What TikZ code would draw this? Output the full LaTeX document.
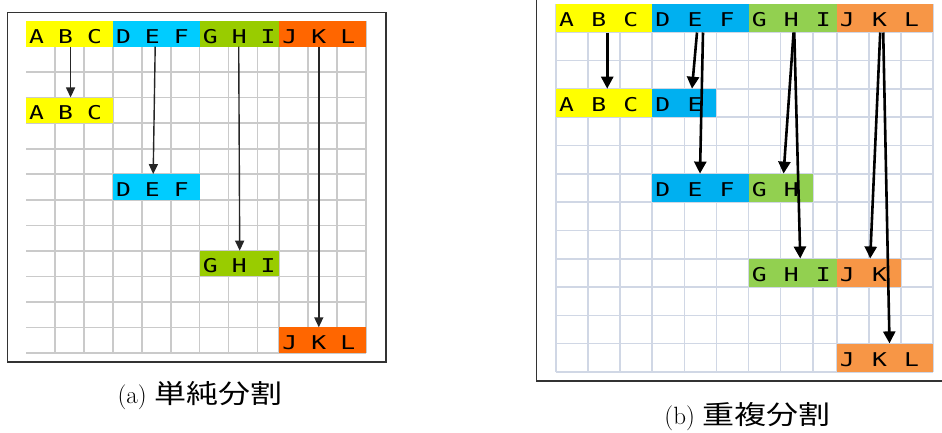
\documentclass[tikz,border=0pt]{standalone}
\usepackage{fontspec}
\newfontfamily\gridfont{DejaVu Sans Mono}[FakeStretch=1.3]
\newfontfamily\jafont{Noto Sans CJK JP}[Scale=1.05, FakeStretch=1.22]
\usetikzlibrary{arrows.meta}
\definecolor{yela}{HTML}{FFFF00}
\definecolor{blua}{HTML}{00CCFF}
\definecolor{grna}{HTML}{99CC00}
\definecolor{orga}{HTML}{FF6600}
\definecolor{yelb}{HTML}{FFFF00}
\definecolor{blub}{HTML}{00B0F0}
\definecolor{grnb}{HTML}{92D050}
\definecolor{orgb}{HTML}{F79646}
\definecolor{linea}{HTML}{CACACA}
\definecolor{lineb}{HTML}{D0D7E5}

\begin{document}
\begin{tikzpicture}[x=1pt, y=-1pt,
    lt/.style={font=\gridfont\fontsize{19}{19}\selectfont, inner sep=0pt, anchor=west, xshift=3pt},
    frame/.style={draw=black!80, line width=1.5pt},
    arra/.style={-{Triangle[length=10pt, width=9pt]}, line width=1.4pt, black!85},
    arrb/.style={-{Triangle[length=12pt, width=12pt]}, line width=2.6pt, black},
    captext/.style={font=\fontsize{25}{30}\selectfont, anchor=base}]
  \useasboundingbox (0,0) rectangle (942,432);
  \clip (0,0) rectangle (942,432);

  % (a) simple split
  \begin{scope}[shift={(26,21)}, x=28.94pt, y=-25.54pt,
      lt/.append style={text height=22pt, text depth=3.5pt}]
    \foreach \c in {1,...,8,8.75,9.75,10.75,11.75}
      \draw[linea, line width=1.6pt] (\c,0) -- (\c,13);
    \foreach \rw in {1,...,13}
      \draw[linea, line width=1.6pt] (0,\rw) -- (11.75,\rw);
    \fill[yela] (0,0) rectangle (3,1);
    \fill[blua] (3,0) rectangle (6,1);
    \fill[grna] (6,0) rectangle (8.75,1);
    \fill[orga] (8.75,0) rectangle (11.75,1);
    \fill[yela] (0,3) rectangle (3,4);
    \fill[blua] (3,6) rectangle (6,7);
    \fill[grna] (6,9) rectangle (8.75,10);
    \fill[orga] (8.75,12) rectangle (11.75,13);
    \foreach \l/\c in {A/0,B/1,C/2,D/3,E/4,F/5,G/6,H/7,I/8,J/8.75,K/9.75,L/10.75}
      \node[lt] (a0\l) at (\c,0.5) {\l};
    \foreach \l/\c/\rw in {A/0/3,B/1/3,C/2/3,D/3/6,E/4/6,F/5/6,G/6/9,H/7/9,I/8/9,J/8.75/12,K/9.75/12,L/10.75/12}
      \node[lt] (a\rw\l) at (\c,\rw+0.5) {\l};
    \draw[arra] ([xshift=5pt]a0B.south) -- ([xshift=5pt]a3B.north);
    \draw[arra] ([xshift=2.8pt]a0E.south) -- ([xshift=0.8pt]a6E.north);
    \draw[arra] ([xshift=-0.5pt]a0H.south) -- ([xshift=0.5pt]a9H.north);
    \draw[arra] (a0K.south) -- (a12K.north);
  \end{scope}
  \draw[frame] (7.5,12.5) rectangle (386,362);
  \node[captext] (capa) at (200,403.5) {(a) {\jafont 単純分割}};

  % (b) overlapping split
  \begin{scope}[shift={(556,4)}, x=32.09pt, y=-28.3pt,
      lt/.append style={text height=22.8pt, text depth=5.5pt}]
    \foreach \c in {0,...,8,8.75,9.75,10.75,11.75}
      \draw[lineb, line width=1.6pt] (\c,0) -- (\c,13);
    \foreach \rw in {1,...,13}
      \draw[lineb, line width=1.6pt] (0,\rw) -- (11.75,\rw);
    \fill[yelb] (0,0) rectangle (3,1);
    \fill[blub] (3,0) rectangle (6,1);
    \fill[grnb] (6,0) rectangle (8.75,1);
    \fill[orgb] (8.75,0) rectangle (11.75,1);
    \fill[yelb] (0,3) rectangle (3,4);
    \fill[blub] (3,3) rectangle (5,4);
    \fill[blub] (3,6) rectangle (6,7);
    \fill[grnb] (6,6) rectangle (8,7);
    \fill[grnb] (6,9) rectangle (8.75,10);
    \fill[orgb] (8.75,9) rectangle (10.75,10);
    \fill[orgb] (8.75,12) rectangle (11.75,13);
    \foreach \l/\c in {A/0,B/1,C/2,D/3,E/4,F/5,G/6,H/7,I/8,J/8.75,K/9.75,L/10.75}
      \node[lt] (b0\l) at (\c,0.5) {\l};
    \foreach \l/\c/\rw in {A/0/3,B/1/3,C/2/3,D/3/3,E/4/3,D/3/6,E/4/6,F/5/6,G/6/6,H/7/6,
        G/6/9,H/7/9,I/8/9,J/8.75/9,K/9.75/9,J/8.75/12,K/9.75/12,L/10.75/12}
      \node[lt] (b\rw\l) at (\c,\rw+0.5) {\l};
    \draw[arrb] ([xshift=8.5pt]b0B.south) -- ([xshift=8.5pt]b3B.north);
    \draw[arrb] ([xshift=2pt]b0E.south) -- ([xshift=-3pt]b3E.north);
    \draw[arrb] ([xshift=8pt]b0E.south) -- ([xshift=5pt]b6E.north);
    \draw[arrb] ([xshift=2.3pt]b0H.south) -- ([xshift=-7.7pt]b6H.north);
    \draw[arrb] ([xshift=3pt]b0H.south) -- ([xshift=9pt]b9H.north);
    \draw[arrb] ([xshift=0.7pt]b0K.south) -- ([xshift=-9.3pt]b9K.north);
    \draw[arrb] ([xshift=3.7pt]b0K.south) -- ([xshift=10pt]b12K.north);
  \end{scope}
  \draw[frame] (536.5,-5) rectangle (950,381);
  \node[captext] (capb) at (747.5,424.5) {(b) {\jafont 重複分割}};
\end{tikzpicture}
\end{document}
